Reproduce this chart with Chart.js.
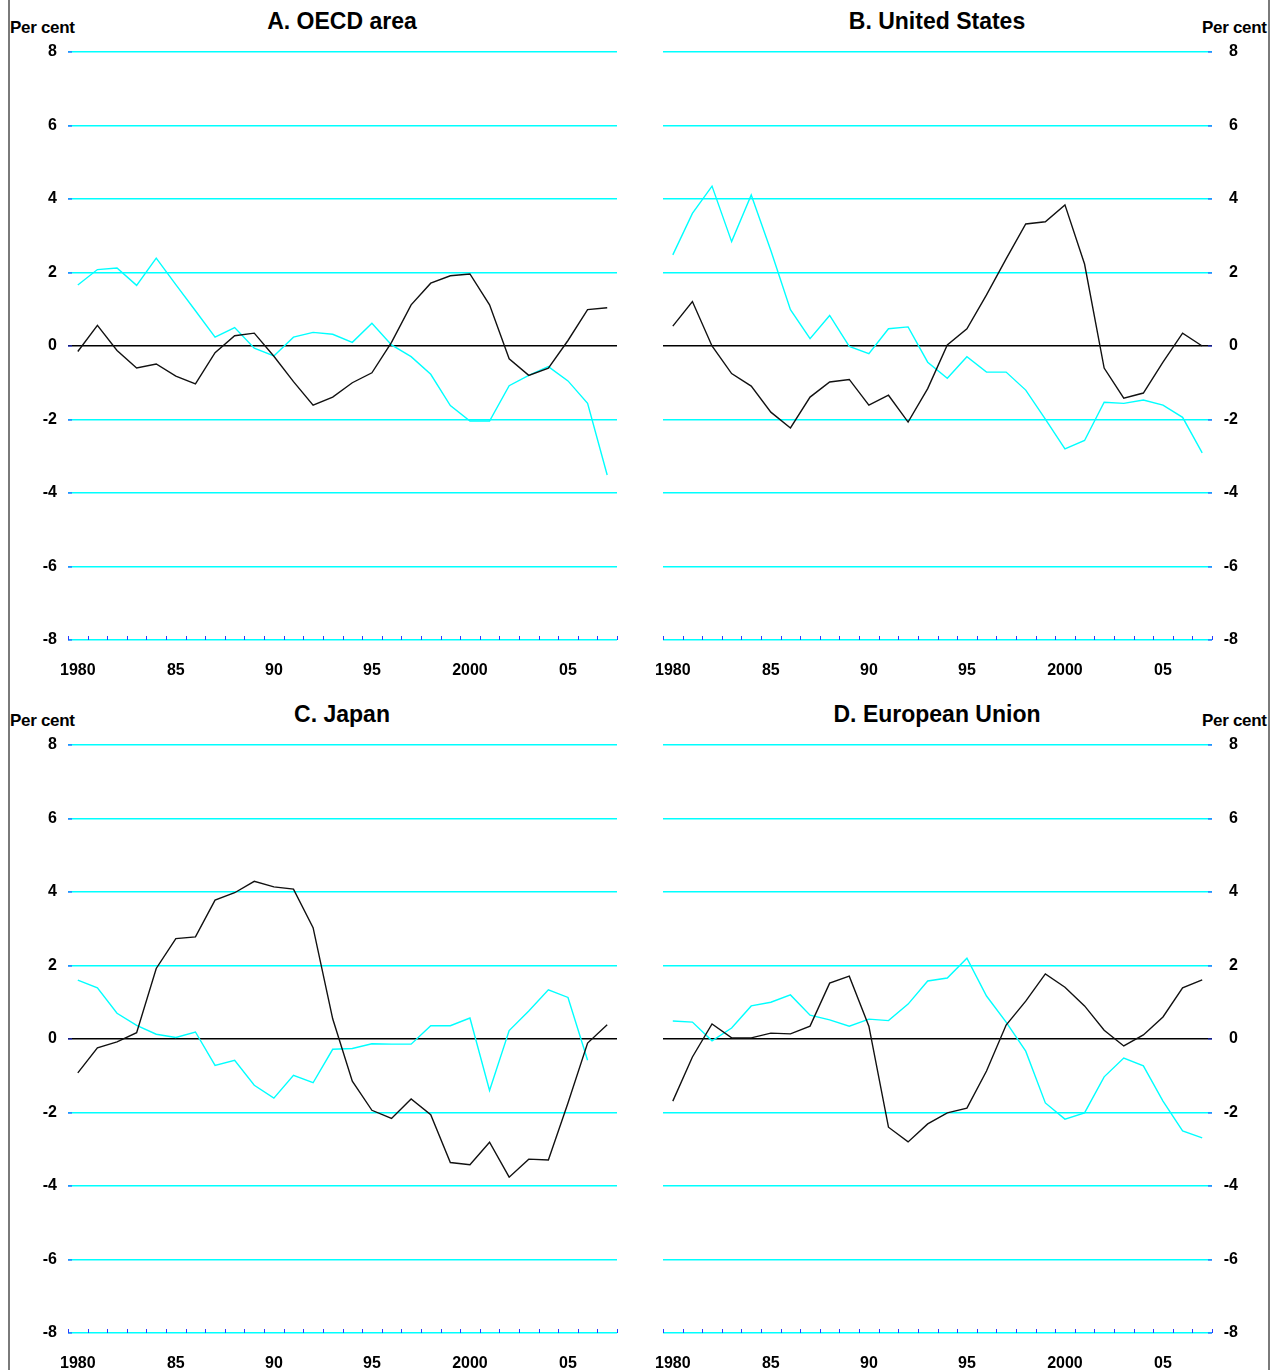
<!DOCTYPE html>
<html>
<head>
<meta charset="utf-8">
<script src="https://cdn.jsdelivr.net/npm/chart.js@4.4.1/dist/chart.umd.min.js"></script>
<style>
  html, body { margin: 0; padding: 0; background: #fff; overflow: hidden; }
  body { width: 1272px; height: 1370px; position: relative; font-family: 'Liberation Sans', Arial, sans-serif; }
  canvas { position: absolute; }
  .title { position: absolute; width: 400px; text-align: center; font-weight: bold; font-size: 23px; line-height: 23px; color: #000; }
  .unit { position: absolute; font-size: 17px; line-height: 17px; font-weight: bold; color: #000; white-space: nowrap; letter-spacing: -0.3px; }
  .edge { position: absolute; top: 0; width: 2px; height: 1370px; background: #7a7a7a; }
</style>
</head>
<body>
<div class="edge" style="left:8px"></div>
<div class="edge" style="left:1268px"></div>

<div class="title" style="left:142px;top:10px">A. OECD area</div>
<div class="title" style="left:737px;top:10px">B. United States</div>
<div class="title" style="left:142px;top:703px">C. Japan</div>
<div class="title" style="left:737px;top:703px">D. European Union</div>

<div class="unit" style="left:10px;top:19px">Per cent</div>
<div class="unit" style="left:1202px;top:19px">Per cent</div>
<div class="unit" style="left:10px;top:712px">Per cent</div>
<div class="unit" style="left:1202px;top:712px">Per cent</div>

<canvas id="chartA" width="636" height="677" style="left:0;top:0"></canvas>
<canvas id="chartB" width="636" height="677" style="left:636px;top:0"></canvas>
<canvas id="chartC" width="636" height="677" style="left:0;top:693px"></canvas>
<canvas id="chartD" width="636" height="677" style="left:636px;top:693px"></canvas>

<script>
const years = ['1980', '1981', '1982', '1983', '1984', '1985', '1986', '1987', '1988', '1989',
  '1990', '1991', '1992', '1993', '1994', '1995', '1996', '1997', '1998', '1999',
  '2000', '2001', '2002', '2003', '2004', '2005', '2006', '2007']

// which years get a label under the axis, and what it reads
const xTickText = { '1980': '1980', '1985': '85', '1990': '90', '1995': '95', '2000': '2000', '2005': '05' }

// A. OECD area
const oecdBlack = [-0.15, 0.56, -0.12, -0.60, -0.49, -0.82, -1.03, -0.18, 0.28, 0.35, -0.28, -0.97, -1.61, -1.39,
  -1.00, -0.73, 0.10, 1.12, 1.71, 1.91, 1.96, 1.12, -0.35, -0.80, -0.60, 0.15, 0.99, 1.04]
const oecdCyan = [1.66, 2.08, 2.12, 1.65, 2.39, 1.67, 0.96, 0.24, 0.50, -0.06, -0.27, 0.24, 0.37, 0.32,
  0.10, 0.62, 0.03, -0.29, -0.77, -1.62, -2.04, -2.04, -1.08, -0.80, -0.56, -0.95, -1.56, -3.51]

// B. United States
const usBlack = [0.54, 1.21, 0.00, -0.75, -1.09, -1.80, -2.23, -1.39, -0.98, -0.91, -1.61, -1.34, -2.07, -1.16,
  0.03, 0.47, 1.39, 2.37, 3.32, 3.38, 3.84, 2.23, -0.60, -1.42, -1.28, -0.44, 0.35, 0.00]
const usCyan = [2.48, 3.61, 4.35, 2.84, 4.11, 2.60, 0.99, 0.20, 0.83, -0.01, -0.21, 0.47, 0.52, -0.44,
  -0.88, -0.29, -0.71, -0.71, -1.20, -1.99, -2.80, -2.57, -1.53, -1.56, -1.47, -1.61, -1.94, -2.91]

// C. Japan
const japanBlack = [-0.92, -0.24, -0.08, 0.17, 1.92, 2.73, 2.78, 3.78, 3.98, 4.29, 4.14, 4.08, 3.03, 0.55,
  -1.15, -1.94, -2.16, -1.63, -2.06, -3.36, -3.42, -2.81, -3.76, -3.27, -3.29, -1.74, -0.11, 0.39]
const japanCyan = [1.60, 1.39, 0.70, 0.37, 0.13, 0.04, 0.19, -0.72, -0.58, -1.26, -1.61, -0.99, -1.19, -0.28,
  -0.26, -0.13, -0.14, -0.14, 0.36, 0.36, 0.57, -1.40, 0.23, 0.76, 1.34, 1.13, -0.58, null]

// D. European Union
const euBlack = [-1.69, -0.49, 0.41, 0.03, 0.03, 0.16, 0.14, 0.35, 1.52, 1.71, 0.35, -2.40, -2.80, -2.31,
  -2.01, -1.88, -0.87, 0.38, 1.03, 1.77, 1.41, 0.90, 0.24, -0.19, 0.11, 0.60, 1.39, 1.61]
const euCyan = [0.49, 0.46, -0.05, 0.30, 0.90, 1.00, 1.20, 0.65, 0.52, 0.35, 0.54, 0.50, 0.95, 1.58,
  1.66, 2.20, 1.17, 0.46, -0.33, -1.74, -2.18, -2.01, -1.03, -0.52, -0.73, -1.69, -2.50, -2.69]

const tickFont = { family: "'Liberation Sans', Arial, sans-serif", size: 16, weight: 'bold' }

// small blue tick marks pointing into the plot
const innerTicks = {
  id: 'innerTicks',
  afterDraw(chart) {
    const { ctx, chartArea } = chart
    const x = chart.scales.x
    const y = chart.scales.y
    const n = chart.data.labels.length
    ctx.save()
    ctx.strokeStyle = '#2a3cff'
    ctx.lineWidth = 1
    ctx.beginPath()
    for (let k = 0; k <= n; k++) {
      const px = Math.round(x.left + (x.right - x.left) * k / n) + 0.5
      ctx.moveTo(px, chartArea.bottom)
      ctx.lineTo(px, chartArea.bottom - 4)
    }
    y.ticks.forEach((t) => {
      const py = Math.round(y.getPixelForValue(t.value))
      if (y.position === 'left') {
        ctx.moveTo(chartArea.left, py)
        ctx.lineTo(chartArea.left + 4, py)
      } else {
        ctx.moveTo(chartArea.right, py)
        ctx.lineTo(chartArea.right - 4, py)
      }
    })
    ctx.stroke()
    ctx.restore()
  },
}

const makeChart = (id, black, cyan, side) => {
  const left = side === 'left'
  return new Chart(document.getElementById(id), {
    type: 'line',
    data: {
      labels: years,
      datasets: [
        { data: black, borderColor: '#111111', borderWidth: 1.4, pointRadius: 0, tension: 0, fill: false },
        { data: cyan, borderColor: '#00ffff', borderWidth: 1.4, pointRadius: 0, tension: 0, fill: false },
      ],
    },
    options: {
      responsive: false,
      animation: false,
      events: [],
      layout: {
        padding: left ? { left: 10, right: 19, top: 52, bottom: 0 } : { left: 27, right: 34, top: 52, bottom: 0 },
      },
      plugins: { legend: { display: false }, tooltip: { enabled: false }, title: { display: false } },
      scales: {
        x: {
          offset: true,
          grid: { display: false, drawTicks: false },
          border: { display: false },
          ticks: {
            autoSkip: false,
            maxRotation: 0,
            minRotation: 0,
            padding: 21,
            color: '#000',
            font: tickFont,
            callback: (value, index) => xTickText[years[index]] || '',
          },
          afterFit: (scale) => {
            scale.height = 37
            scale.paddingLeft = 0
            scale.paddingRight = 0
          },
        },
        y: {
          position: side,
          min: -8,
          max: 8,
          grid: {
            drawTicks: false,
            lineWidth: 1.5,
            color: (c) => (c.tick && c.tick.value === 0 ? '#000000' : '#00ffff'),
          },
          border: { display: false },
          ticks: {
            stepSize: 2,
            padding: left ? 11 : 12,
            crossAlign: left ? 'near' : 'far',
            color: '#000',
            font: tickFont,
          },
          afterFit: (scale) => { scale.width = left ? 58 : 26 },
        },
      },
    },
    plugins: [innerTicks],
  })
}

makeChart('chartA', oecdBlack, oecdCyan, 'left')
makeChart('chartB', usBlack, usCyan, 'right')
makeChart('chartC', japanBlack, japanCyan, 'left')
makeChart('chartD', euBlack, euCyan, 'right')
</script>
</body>
</html>
